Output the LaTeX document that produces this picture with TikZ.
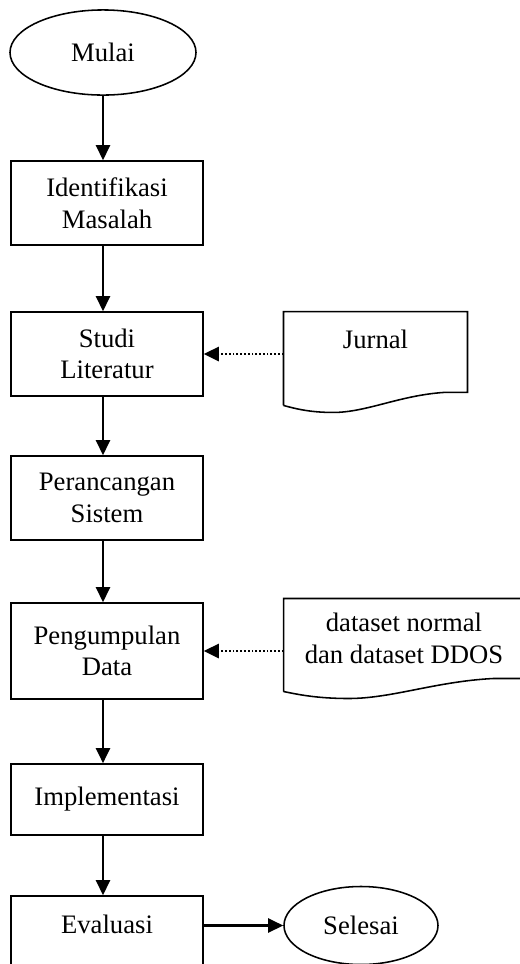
\documentclass[tikz,border=0pt]{standalone}
\usepackage{fontspec}
\setmainfont{Liberation Serif}
\usetikzlibrary{arrows.meta,calc,shapes.geometric}

% outline of a document symbol round a named node
\newcommand{\dokumen}[1]{%
\draw[line width=0.7pt] ($(#1.south west)+(0,13)$) -- (#1.north west) -- (#1.north east) -- (#1.south east)
 -- ($(#1.south west)!0.87!(#1.south east)$)
 .. controls ($(#1.south west)!0.63!(#1.south east)+(0,3)$) and ($(#1.south west)!0.45!(#1.south east)+(0,20)$) .. ($(#1.south west)!0.27!(#1.south east)+(0,20)$)
 .. controls ($(#1.south west)!0.14!(#1.south east)+(0,20)$) and ($(#1.south west)!0.06!(#1.south east)+(0,16)$) .. ($(#1.south west)+(0,13)$);}

\begin{document}
\begin{tikzpicture}[x=0.45pt,y=-0.45pt]
\path[use as bounding box,clip] (0,0) rectangle (520,964);
\tikzstyle{every node}=[font=\fontsize{12}{14.2}\selectfont,align=center];
\tikzstyle{kotak}=[draw,line width=0.7pt,rectangle,minimum width=86.4pt,inner sep=2pt];
\tikzstyle{oval}=[draw,line width=0.7pt,ellipse,inner sep=0pt];
\tikzstyle{dok}=[rectangle,minimum width=82.4pt,minimum height=36pt,inner sep=0pt];
\tikzstyle{panah}=[line width=1pt,-{Triangle[length=6.75pt,width=6.3pt]}];
\tikzstyle{putus}=[panah,line width=1.2pt,dash pattern=on 0.8pt off 0.9pt];
\node (mulai)[oval,minimum width=83.7pt,minimum height=38.3pt] at (103,52.5) {Mulai};
\node (identifikasi)[kotak,minimum height=37.8pt] at (107,203) {Identifikasi\\Masalah};
\node (studi)[kotak,minimum height=37.8pt] at (107,354) {Studi\\Literatur};
\node (perancangan)[kotak,minimum height=37.8pt] at (107,498) {Perancangan\\Sistem};
\node (pengumpulan)[kotak,minimum height=43.2pt] at (107,651) {Pengumpulan\\Data};
\node (implementasi)[kotak,minimum height=32pt] at (107,799.5) {Implementasi};
\node (evaluasi)[kotak,minimum height=40.5pt,text depth=15.4pt] at (107,941) {Evaluasi};
\node (selesai)[oval,minimum width=69.3pt,minimum height=35.1pt] at (361,925.5) {Selesai};
\node (jurnal)[dok,text depth=11.8pt] at (375.5,352) {Jurnal};
\node (dataset)[dok,minimum width=108pt,minimum height=35.6pt] at (404,638.5) {dataset normal\\dan dataset DDOS};
\dokumen{jurnal}
\dokumen{dataset}
% main flow
\draw[panah] (mulai) -- (mulai |- identifikasi.north);
\draw[panah] (identifikasi.south -| mulai) -- (mulai |- studi.north);
\draw[panah] (studi.south -| mulai) -- (mulai |- perancangan.north);
\draw[panah] (perancangan.south -| mulai) -- (mulai |- pengumpulan.north);
\draw[panah] (pengumpulan.south -| mulai) -- (mulai |- implementasi.north);
\draw[panah] (implementasi.south -| mulai) -- (mulai |- evaluasi.north);
\draw[panah] (evaluasi.east |- selesai) -- (selesai.west);
% inputs
\draw[putus] (studi.east -| jurnal.west) -- (studi.east);
\draw[putus] (pengumpulan.east -| dataset.west) -- (pengumpulan.east);
\end{tikzpicture}
\end{document}
